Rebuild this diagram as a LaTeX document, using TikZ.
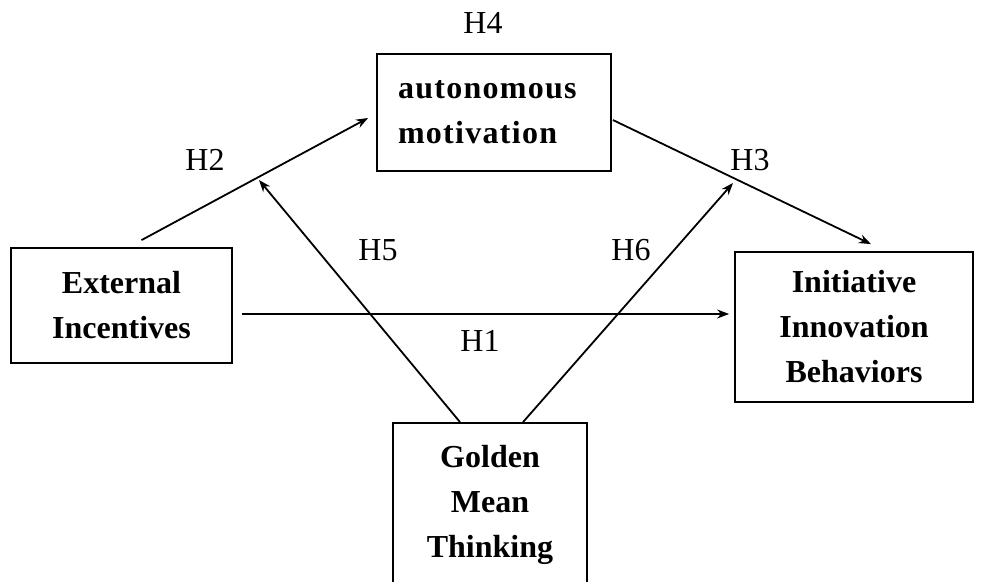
\documentclass[tikz,border=0pt]{standalone}
\usepackage{fontspec}
\setmainfont{Liberation Serif}
\usetikzlibrary{arrows.meta,calc}
\begin{document}
\begin{tikzpicture}[x=1pt,y=-1pt,
  box/.style={draw, line width=1.8pt, inner sep=0pt, align=center,
    font=\fontsize{32}{45}\selectfont\bfseries},
  lab/.style={font=\fontsize{32}{38}\selectfont, inner sep=0pt},
  conn/.style={line width=1.8pt, -{Stealth[length=12pt,width=9pt]}}]
\clip (0,0) rectangle (984,581);
\fill[white] (0,0) rectangle (984,581);
% boxes
\node[box, minimum width=234, minimum height=117, text width=192, align=left, inner xsep=21,
  font=\fontsize{32}{45}\selectfont\bfseries\addfontfeature{LetterSpace=4}]
  (auto) at (494,112.5) {autonomous\\motivation};
\node[box, minimum width=221, minimum height=115] (ext) at (121.5,305.5) {External\\Incentives};
\node[box, minimum width=238, minimum height=150] (init) at (854,327) {Initiative\\Innovation\\Behaviors};
\node[box, minimum width=194, minimum height=164] (gold) at (490,505) {Golden\\Mean\\Thinking};
% free ends
\coordinate (h5end) at (259,180);
\coordinate (h6end) at (733,183);
% connectors
\draw[conn] ($(ext.north)+(20,-7)$) -- ($(auto.west)+(-8,5.5)$);
\draw[conn] ($(auto.east)+(1,7.5)$) -- ($(init.north)+(17,-7)$);
\draw[conn] ($(ext.east)+(9,8.5)$) -- ($(init.west)+(-5,-13)$);
\draw[conn] ($(gold.north)+(-30,0)$) -- (h5end);
\draw[conn] ($(gold.north)+(33,0)$) -- (h6end);
% labels
\node[lab] (l4) at (483,23) {H4};
\node[lab] (l2) at (205,160) {H2};
\node[lab] (l3) at (750,160) {H3};
\node[lab] (l5) at (378,250) {H5};
\node[lab] (l6) at (631,250) {H6};
\node[lab] (l1) at (480,341) {H1};
\end{tikzpicture}
\end{document}
